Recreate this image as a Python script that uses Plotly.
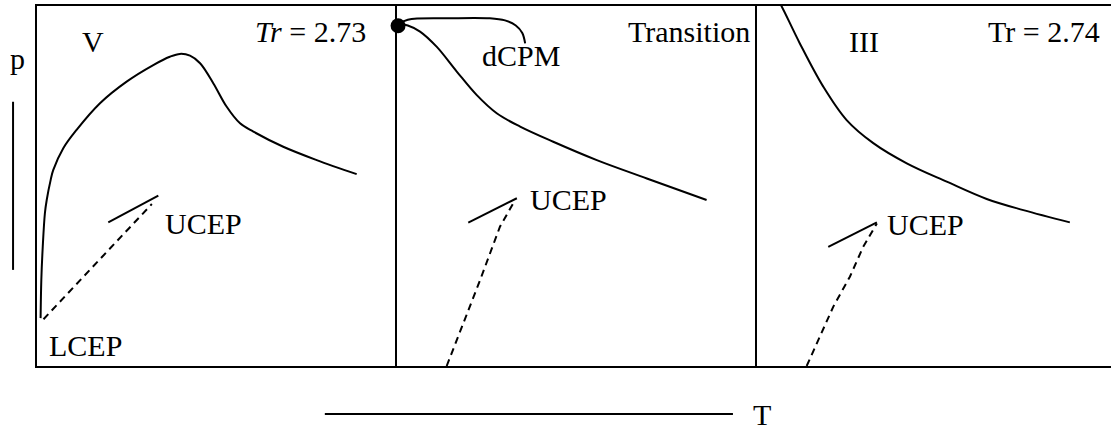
import plotly.graph_objects as go

# ---- Panel V (Tr = 2.73) ----
v_crit_T = [0.010, 0.012, 0.016, 0.022, 0.027, 0.038, 0.045, 0.073, 0.110, 0.175, 0.249,
            0.323, 0.369, 0.397, 0.425, 0.453, 0.490, 0.527, 0.564, 0.601, 0.684, 0.777, 0.888]
v_crit_p = [0.133, 0.239, 0.332, 0.425, 0.461, 0.517, 0.544, 0.605, 0.656, 0.730, 0.790,
            0.836, 0.859, 0.867, 0.862, 0.841, 0.785, 0.720, 0.674, 0.651, 0.609, 0.572, 0.533]
v_lle_T = [0.198, 0.337]
v_lle_p = [0.399, 0.473]
v_cep_T = [0.018, 0.319]
v_cep_p = [0.130, 0.450]

# ---- Transition panel ----
tr_dcpm_T = [0.003]
tr_dcpm_p = [0.945]
tr_loop_T = [0.004, 0.030, 0.138, 0.258, 0.300, 0.330, 0.348, 0.356]
tr_loop_p = [0.950, 0.962, 0.966, 0.966, 0.960, 0.946, 0.925, 0.896]
tr_crit_T = [0.004, 0.030, 0.064, 0.110, 0.166, 0.221, 0.277, 0.342, 0.434, 0.555, 0.694, 0.860]
tr_crit_p = [0.950, 0.946, 0.929, 0.887, 0.818, 0.753, 0.702, 0.665, 0.623, 0.572, 0.521, 0.461]
tr_lle_T = [0.198, 0.333]
tr_lle_p = [0.398, 0.466]
tr_cep_T = [0.138, 0.231, 0.286, 0.328]
tr_cep_p = [0.000, 0.239, 0.387, 0.461]

# ---- Panel III (Tr = 2.74) ----
iii_crit_T = [0.064, 0.069, 0.119, 0.184, 0.249, 0.323, 0.416, 0.527, 0.638, 0.740, 0.869]
iii_crit_p = [1.006, 0.998, 0.896, 0.776, 0.683, 0.619, 0.563, 0.512, 0.464, 0.433, 0.399]
iii_lle_T = [0.198, 0.333]
iii_lle_p = [0.331, 0.399]
iii_cep_T = [0.138, 0.212, 0.258, 0.295, 0.333]
iii_cep_p = [0.000, 0.165, 0.248, 0.331, 0.396]

FONT = "Liberation Serif"
BLACK = "black"
LW = 2

fig = go.Figure()


def line(x, y, ax, dash="solid", spline=True):
    fig.add_trace(go.Scatter(
        x=x, y=y, mode="lines", xaxis="x" + ax, yaxis="y" + ax,
        line=dict(color=BLACK, width=LW, dash=dash,
                  shape="spline" if spline else "linear", smoothing=1.0),
        hoverinfo="skip", showlegend=False))


DASH = "7px,5px"

line(v_crit_T, v_crit_p, "")
line(v_lle_T, v_lle_p, "", spline=False)
line(v_cep_T, v_cep_p, "", dash=DASH, spline=False)

line(tr_loop_T, tr_loop_p, "2")
line(tr_crit_T, tr_crit_p, "2")
line(tr_lle_T, tr_lle_p, "2", spline=False)
line(tr_cep_T, tr_cep_p, "2", dash=DASH, spline=False)
fig.add_trace(go.Scatter(
    x=tr_dcpm_T, y=tr_dcpm_p, mode="markers", xaxis="x2", yaxis="y2",
    marker=dict(color=BLACK, size=15), cliponaxis=False,
    hoverinfo="skip", showlegend=False))

line(iii_crit_T, iii_crit_p, "3")
line(iii_lle_T, iii_lle_p, "3", spline=False)
line(iii_cep_T, iii_cep_p, "3", dash=DASH, spline=False)

W_PLOT = 1074.0
PANEL = 360.0
d1 = PANEL / W_PLOT
d2 = 2 * PANEL / W_PLOT

axis_common = dict(showgrid=False, zeroline=False, showticklabels=False, ticks="",
                   showline=True, linecolor=BLACK, linewidth=LW, fixedrange=True)

fig.update_layout(
    width=1111, height=430,
    margin=dict(l=37, r=0, t=6, b=64),
    paper_bgcolor="white", plot_bgcolor="white",
    xaxis=dict(domain=[0, d1], range=[0, 1], anchor="y", mirror=True, **axis_common),
    xaxis2=dict(domain=[d1, d2], range=[0, 1], anchor="y2", mirror=True, **axis_common),
    xaxis3=dict(domain=[d2, 1], range=[0, (W_PLOT - 2 * PANEL) / PANEL], anchor="y3",
                mirror=True, **axis_common),
    yaxis=dict(range=[0, 1], anchor="x", **axis_common),
    yaxis2=dict(range=[0, 1], anchor="x2", **axis_common),
    yaxis3=dict(range=[0, 1], anchor="x3", **axis_common),
    font=dict(family=FONT, size=30, color=BLACK),
)

labels = [
    # text, axis suffix, x, y, xanchor
    ("V", "", 0.156, 0.902, "center"),
    ("<i>Tr</i> = 2.73", "", 0.919, 0.930, "right"),
    ("UCEP", "", 0.350, 0.395, "left"),
    ("LCEP", "", 0.028, 0.058, "left"),
    ("Transition", "2", 0.985, 0.929, "right"),
    ("dCPM", "2", 0.344, 0.862, "center"),
    ("UCEP", "2", 0.364, 0.463, "left"),
    ("III", "3", 0.297, 0.902, "center"),
    ("Tr = 2.74", "3", 0.958, 0.930, "right"),
    ("UCEP", "3", 0.356, 0.394, "left"),
]
for text, ax, x, y, xa in labels:
    fig.add_annotation(text=text, xref="x" + ax, yref="y" + ax, x=x, y=y,
                       xanchor=xa, yanchor="middle", showarrow=False,
                       font=dict(family=FONT, size=30, color=BLACK))

# axis direction markers: p (vertical) and T (horizontal)
fig.add_shape(type="line", xref="paper", yref="paper", x0=-0.0223, x1=-0.0223,
              y0=0.267, y1=0.734, line=dict(color=BLACK, width=LW))
fig.add_shape(type="line", xref="paper", yref="paper", x0=0.268, x1=0.648,
              y0=-0.1333, y1=-0.1333, line=dict(color=BLACK, width=LW))
fig.add_annotation(text="p", xref="paper", yref="paper", x=-0.0182, y=0.855,
                   xanchor="center", yanchor="middle", showarrow=False,
                   font=dict(family=FONT, size=30, color=BLACK))
fig.add_annotation(text="T", xref="paper", yref="paper", x=0.6748, y=-0.135,
                   xanchor="center", yanchor="middle", showarrow=False,
                   font=dict(family=FONT, size=30, color=BLACK))

fig.write_html("out.html")
